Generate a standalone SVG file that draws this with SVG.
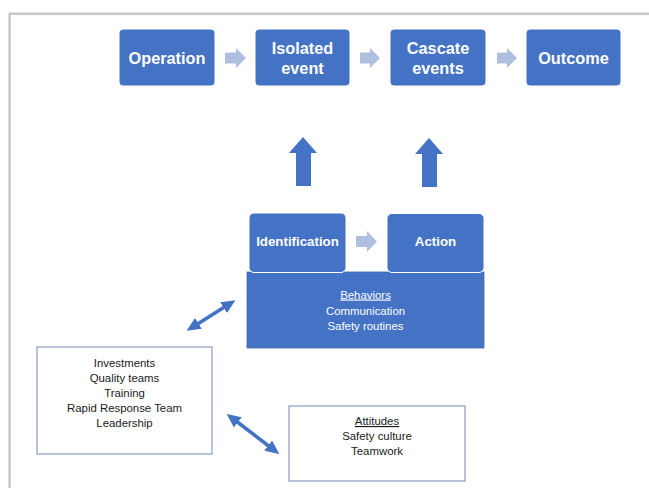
<svg xmlns="http://www.w3.org/2000/svg" width="649" height="488" viewBox="0 0 649 488">
<style>
.box{fill:#4472C4;stroke:#ffffff;stroke-width:1}
.chev{fill:#AFBFE0}
.up{fill:#4472C4}
.wbox{fill:#ffffff;stroke:#8A9CC2;stroke-width:1.2}
.tb{font-family:"Liberation Sans",Arial,sans-serif;font-weight:bold;fill:#ffffff;text-anchor:middle}
.t16{font-size:16.3px}
.t13{font-size:13.3px}
.sm{font-family:"Liberation Sans",Arial,sans-serif;font-size:11.4px;text-anchor:middle}
.w{fill:#ffffff}
.k{fill:#1a1a1a}
.frame{stroke:#C8C8C8;stroke-width:2.5;fill:none}
.dbl{stroke:#4472C4;stroke-width:3.6;fill:none;marker-start:url(#ah);marker-end:url(#ah)}
</style>
<defs>
<marker id="ah" markerUnits="userSpaceOnUse" markerWidth="14" markerHeight="13" refX="4" refY="6" orient="auto-start-reverse" viewBox="0 0 13 12">
<path d="M0,0 L13,6 L0,12 z" fill="#4472C4"/>
</marker>
</defs>
<rect width="649" height="488" fill="#ffffff"/>
<path class="frame" d="M649,13.8 H9.6 V488"/>

<g id="operation">
<rect class="box" x="119" y="29" width="96" height="57" rx="4"/>
<text class="tb t16" x="167" y="63.5">Operation</text>
</g>
<g id="isolated-event">
<rect class="box" x="255" y="29" width="95" height="57" rx="4"/>
<text class="tb t16" x="302.5" y="53.5">Isolated</text>
<text class="tb t16" x="302.5" y="73.5">event</text>
</g>
<g id="cascade-events">
<rect class="box" x="390" y="29" width="96" height="57" rx="4"/>
<text class="tb t16" x="438" y="53.5">Cascate</text>
<text class="tb t16" x="438" y="73.5">events</text>
</g>
<g id="outcome">
<rect class="box" x="526" y="29" width="95" height="57" rx="4"/>
<text class="tb t16" x="573.5" y="63.5">Outcome</text>
</g>

<g id="behaviors">
<rect x="247" y="272" width="237" height="76" fill="#4472C4" stroke="#3F68B5" stroke-width="0.8"/>
<text class="sm w" x="365.5" y="298.5" text-decoration="underline" font-size="12.4">Behaviors</text>
<text class="sm w" x="365.5" y="314.5">Communication</text>
<text class="sm w" x="365.5" y="329.5">Safety routines</text>
</g>
<g id="identification">
<rect class="box" x="249" y="213" width="97" height="59.5" rx="5"/>
<text class="tb t13" x="297.5" y="246">Identification</text>
</g>
<g id="action">
<rect class="box" x="387" y="213.5" width="97" height="59" rx="5"/>
<text class="tb t13" x="435.5" y="246">Action</text>
</g>

<g id="resources">
<rect class="wbox" x="37" y="347" width="175" height="107"/>
<text class="sm k" x="124.5" y="367">Investments</text>
<text class="sm k" x="124.5" y="382">Quality teams</text>
<text class="sm k" x="124.5" y="397">Training</text>
<text class="sm k" x="124.5" y="412">Rapid Response Team</text>
<text class="sm k" x="124.5" y="427">Leadership</text>
</g>
<g id="attitudes">
<rect class="wbox" x="289" y="406" width="176" height="75"/>
<text class="sm k" x="377" y="425" text-decoration="underline">Attitudes</text>
<text class="sm k" x="377" y="440">Safety culture</text>
<text class="sm k" x="377" y="455">Teamwork</text>
</g>

<g id="connectors">
<path class="chev" d="M225,52.5 H236 V48 L246,58 L236,68 V63.5 H225 z"/>
<path class="chev" d="M360,52.5 H370 V48 L380,58 L370,68 V63.5 H360 z"/>
<path class="chev" d="M497,52.5 H507 V48 L517,58 L507,68 V63.5 H497 z"/>
<path class="chev" d="M356,236 H367 V231 L377,241.5 L367,252 V247 H356 z"/>
<path class="up" d="M296,186 V153 H289 L303,137 L317,153 H311 V186 z"/>
<path class="up" d="M422,187 V154 H415 L429,138 L443,154 H437 V187 z"/>
<line class="dbl" x1="227.2" y1="305.3" x2="194.8" y2="325.7"/>
<line class="dbl" x1="234.4" y1="419.8" x2="271.6" y2="448.2"/>
</g>
</svg>
